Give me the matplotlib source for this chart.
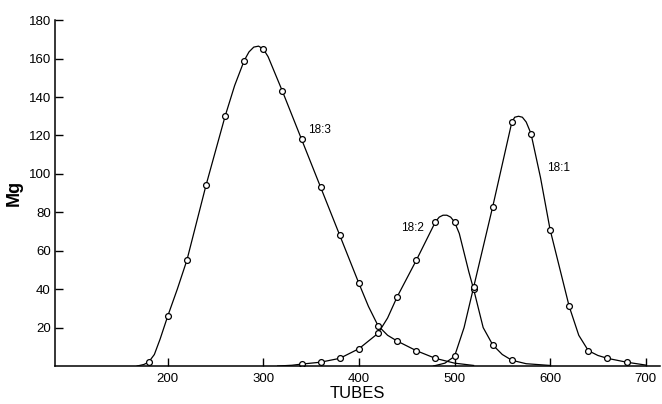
import matplotlib.pyplot as plt

plt.rcParams['font.family'] = ['Liberation Sans', 'DejaVu Sans']

# measured tubes (every 20) and amount in mg for each fraction
tubes_183 = [180, 200, 220, 240, 260, 280, 300, 320, 340, 360, 380, 400, 420, 440, 460, 480]
mg_183 = [2, 26, 55, 94, 130, 159, 165, 143, 118, 93, 68, 43, 21, 13, 8, 4]

tubes_182 = [340, 360, 380, 400, 420, 440, 460, 480, 500, 520, 540, 560]
mg_182 = [1, 2, 4, 9, 17, 36, 55, 75, 75, 40, 11, 3]

tubes_181 = [500, 520, 540, 560, 580, 600, 620, 640, 660, 680]
mg_181 = [5, 41, 83, 127, 121, 71, 31, 8, 4, 2]

# hand-drawn curves (include peaks and tails)
curve_183_x = [168, 175, 180, 186, 192, 200, 210, 220, 240, 260, 270, 280, 285, 290, 295,
               300, 305, 310, 320, 340, 360, 380, 400, 410, 420, 430, 440, 460, 480, 500, 520]
curve_183_y = [0, 0.8, 2, 6, 14, 26, 40, 55, 94, 130, 146, 159, 163.5, 166, 166.5,
               165, 161, 155, 143, 118, 93, 68, 43, 31, 21, 16, 13, 8, 4, 1.5, 0.3]

curve_182_x = [315, 330, 340, 360, 380, 400, 420, 430, 440, 460, 480, 484, 488, 492, 496,
               500, 505, 510, 515, 520, 525, 530, 540, 550, 560, 575, 600]
curve_182_y = [0, 0.4, 1, 2, 4, 9, 17, 25, 36, 55, 75, 77.5, 78.5, 78.5, 77.5,
               75, 69, 59, 49, 40, 30, 20, 11, 6, 3, 1.2, 0.3]

curve_181_x = [478, 490, 500, 510, 520, 540, 560, 563, 567, 571, 575, 580, 590, 600, 620,
               630, 640, 650, 660, 680, 700]
curve_181_y = [0, 1.5, 5, 20, 41, 83, 127, 129.5, 130, 129.5, 127, 121, 98, 71, 31,
               16, 8, 5.5, 4, 2, 0.5]

labels = ['18:3', '18:2', '18:1']
label_pos = [(359, 123), (456, 72), (609, 103)]

fig = plt.figure(figsize=(6.62, 4.04), dpi=100)
ax = fig.add_axes([0.083, 0.094, 0.914, 0.856])

for cx, cy in [(curve_183_x, curve_183_y), (curve_182_x, curve_182_y), (curve_181_x, curve_181_y)]:
    ax.plot(cx, cy, color='black', linewidth=0.9, solid_joinstyle='round')

for tx, ty in [(tubes_183, mg_183), (tubes_182, mg_182), (tubes_181, mg_181)]:
    ax.plot(tx, ty, linestyle='none', marker='o', markersize=4.2,
            markerfacecolor='white', markeredgecolor='black', markeredgewidth=0.9)

for lab, (lx, ly) in zip(labels, label_pos):
    ax.text(lx, ly, lab, fontsize=8.5, ha='center', va='center')

ax.set_xlim(82, 715)
ax.set_ylim(0, 180)
ax.set_xticks([200, 300, 400, 500, 600, 700])
ax.set_yticks([20, 40, 60, 80, 100, 120, 140, 160, 180])
ax.tick_params(direction='in', length=6, width=1, labelsize=9.5, pad=3)
ax.tick_params(axis='x', pad=5)

ax.spines['top'].set_visible(False)
ax.spines['right'].set_visible(False)
ax.spines['left'].set_linewidth(1.1)
ax.spines['bottom'].set_linewidth(1.1)

ax.set_xlabel('TUBES', fontsize=12, labelpad=1)
ax.set_ylabel('Mg', fontsize=13, fontweight='bold', labelpad=4)

fig.savefig('out.png', dpi=100)
